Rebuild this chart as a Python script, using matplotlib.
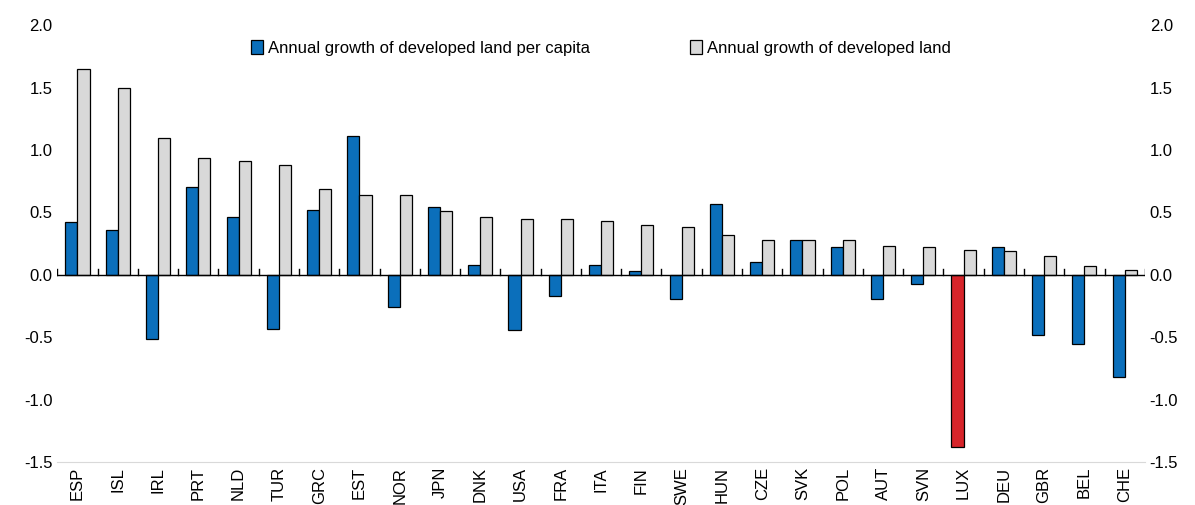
import numpy as np
import matplotlib.pyplot as plt

countries = ['ESP', 'ISL', 'IRL', 'PRT', 'NLD', 'TUR', 'GRC', 'EST', 'NOR', 'JPN', 'DNK', 'USA', 'FRA', 'ITA',
             'FIN', 'SWE', 'HUN', 'CZE', 'SVK', 'POL', 'AUT', 'SVN', 'LUX', 'DEU', 'GBR', 'BEL', 'CHE']
per_capita = [0.42, 0.36, -0.51, 0.70, 0.46, -0.43, 0.52, 1.11, -0.26, 0.54, 0.08, -0.44, -0.17, 0.08,
              0.03, -0.19, 0.57, 0.10, 0.28, 0.22, -0.19, -0.07, -1.38, 0.22, -0.48, -0.55, -0.82]
total = [1.65, 1.50, 1.10, 0.94, 0.91, 0.88, 0.69, 0.64, 0.64, 0.51, 0.46, 0.45, 0.45, 0.43,
         0.40, 0.38, 0.32, 0.28, 0.28, 0.28, 0.23, 0.22, 0.20, 0.19, 0.15, 0.07, 0.04]

plt.rcParams['font.family'] = ['Liberation Sans', 'DejaVu Sans']
plt.rcParams['font.size'] = 12

fig, ax = plt.subplots(figsize=(11.95, 5.05), dpi=100)
fig.subplots_adjust(left=0.048, right=0.958, top=0.95, bottom=0.085)

x = np.arange(len(countries))
w = 0.3
blue_colors = ['#d7242a' if c == 'LUX' else '#0b6fbb' for c in countries]
ax.bar(x - w/2, per_capita, w, color=blue_colors, edgecolor='black', linewidth=0.9,
       label='Annual growth of developed land per capita')
ax.bar(x + w/2, total, w, color='#d9d9d9', edgecolor='black', linewidth=0.9,
       label='Annual growth of developed land')
ax.axhline(0, color='black', linewidth=1.0)
# small category separators on the zero line
for b in np.arange(-0.5, len(countries), 1.0):
    ax.plot([b, b], [0, 0.05], color='black', linewidth=1.0)

ax.set_xlim(-0.5, len(countries) - 0.5)
ax.set_ylim(-1.5, 2.0)
ax.set_yticks(np.arange(-1.5, 2.01, 0.5))
ax.set_yticklabels([f'{v:.1f}' for v in np.arange(-1.5, 2.01, 0.5)])
ax.set_xticks(x)
ax.set_xticklabels(countries, rotation=90)
ax.tick_params(axis='y', right=True, labelright=True, length=0)
ax.tick_params(axis='x', length=0)
for s in ['top', 'left', 'right']:
    ax.spines[s].set_visible(False)
ax.spines['bottom'].set_color('#d9d9d9')

leg = ax.legend(loc='upper center', ncol=2, frameon=False, bbox_to_anchor=(0.5, 1.0),
                columnspacing=6, handlelength=0.7, handleheight=0.9, handletextpad=0.3)

fig.savefig('out.png')
